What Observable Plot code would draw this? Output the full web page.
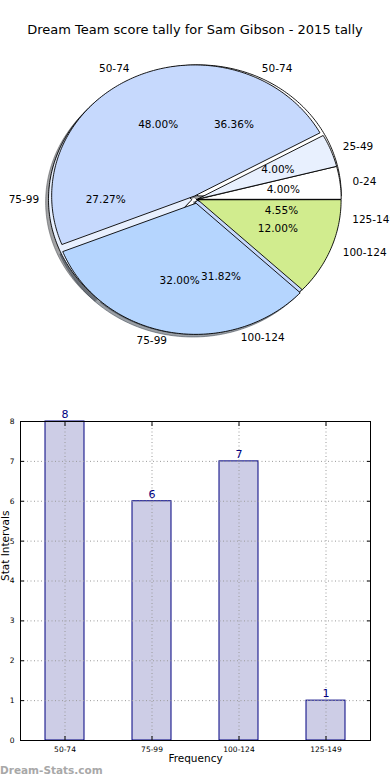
<!DOCTYPE html>
<html>
<head>
<meta charset="utf-8">
<script src="https://cdn.jsdelivr.net/npm/d3@7"></script>
<script src="https://cdn.jsdelivr.net/npm/@observablehq/plot@0.6"></script>
<style>
  html, body { margin: 0; padding: 0; background: #fff; }
  body { width: 390px; height: 780px; position: relative; overflow: hidden; font-family: "DejaVu Sans", sans-serif; }
  #title { height: 50px; box-sizing: border-box; padding-top: 20px; line-height: 20px; font-size: 13px; text-align: center; color: #000; }
  #watermark { position: absolute; left: 0; top: 763px; font-size: 10.5px; line-height: 14px; font-weight: bold; color: #a8a8a8; }
  svg { display: block; }
</style>
</head>
<body>
<div id="title">Dream Team score tally for Sam Gibson - 2015 tally</div>
<div id="pie"></div>
<div id="bar"></div>
<div id="watermark">Dream-Stats.com</div>
<script>
// ---- data ----
const pie1Labels = ["0-24", "25-49", "50-74", "75-99", "100-124"];
const pie1Pct = [4.00, 4.00, 48.00, 32.00, 12.00];
const pie2Labels = ["50-74", "75-99", "100-124", "125-149"];
const pie2Pct = [36.36, 27.27, 31.82, 4.55];
const barCategories = ["50-74", "75-99", "100-124", "125-149"];
const barValues = [8, 6, 7, 1];
const yTickValues = [0, 1, 2, 3, 4, 5, 6, 7, 8];

// ---- styles ----
const pie1Colors = ["#ffffff", "#e8f0fe", "#c6d9fd", "#b5d5fe", "#d1ec8e"];
const pie2Colors = ["#ffffff", "#e8f0fe", "#c6d9fd", "#b5d5fe"];
const pie1Explode = [0.012, 0.012, 0.03, 0.03, 0.012];
const pie2Explode = [0.03, 0.035, 0.01, 0.0];
const font = "DejaVu Sans";

function wedges(labels, pct, colors, explode, pie) {
  const total = d3.sum(pct);
  let acc = 0;
  return labels.map((label, i) => {
    const a0 = acc / total * 2 * Math.PI;
    acc += pct[i];
    const a1 = acc / total * 2 * Math.PI;
    const mid = (a0 + a1) / 2;
    const ex = explode[i] * Math.cos(mid), ey = explode[i] * Math.sin(mid);
    const pts = [{x: ex, y: ey}];
    const n = Math.max(2, Math.ceil((a1 - a0) / (Math.PI / 180)));
    for (let k = 0; k <= n; k++) {
      const a = a0 + (a1 - a0) * k / n;
      pts.push({x: ex + Math.cos(a), y: ey + Math.sin(a)});
    }
    return {
      pie, label, value: pct[i], color: colors[i], pts, mid,
      lx: 1.1 * Math.cos(mid), ly: 1.1 * Math.sin(mid),
      px: ex + 0.6 * Math.cos(mid), py: ey + 0.6 * Math.sin(mid),
      pctText: pct[i].toFixed(2) + "%"
    };
  });
}

const w1 = wedges(pie1Labels, pie1Pct, pie1Colors, pie1Explode, 1);
const w2 = wedges(pie2Labels, pie2Pct, pie2Colors, pie2Explode, 2);
const allW = [...w2, ...w1];

function shadowColor(c) {
  const r = d3.rgb(c);
  return d3.rgb(r.r * 0.3, r.g * 0.3, r.b * 0.3).formatHex();
}

const shadowMarks = allW.map(w => Plot.line(w.pts.map(p => ({x: p.x - 0.02, y: p.y - 0.02})), {
  x: "x", y: "y", curve: "linear-closed",
  fill: shadowColor(w.color), fillOpacity: 0.5,
  stroke: shadowColor(w.color), strokeOpacity: 0.5, strokeWidth: 1
}));
const wedgeMarks = allW.map(w => Plot.line(w.pts, {
  x: "x", y: "y", curve: "linear-closed",
  fill: w.color, stroke: "#000", strokeWidth: 0.9, strokeLinejoin: "round"
}));

const cxPix = 196, cyPix = 149, rx = 143, ry = 131;

const pieChart = Plot.plot({
  width: 390, height: 350,
  margin: 0,
  style: {fontFamily: font, background: "transparent", overflow: "visible"},
  x: {domain: [-1, 1], range: [cxPix - rx, cxPix + rx], axis: null},
  y: {domain: [-1, 1], range: [cyPix + ry, cyPix - ry], axis: null},
  marks: [
    ...shadowMarks,
    ...wedgeMarks,
    Plot.text(allW.filter(w => w.lx >= 0), {x: "lx", y: "ly", text: "label", textAnchor: "start", fontSize: 10.5, fill: "#000"}),
    Plot.text(allW.filter(w => w.lx < 0), {x: "lx", y: "ly", text: "label", textAnchor: "end", fontSize: 10.5, fill: "#000"}),
    Plot.text(allW, {x: "px", y: "py", text: "pctText", fontSize: 10.5, fill: "#000"})
  ]
});
document.getElementById("pie").appendChild(pieChart);

// ---- bar chart ----
const barData = barCategories.map((c, i) => ({category: c, value: barValues[i]}));

const barChart = Plot.plot({
  width: 390, height: 370,
  marginTop: 21, marginBottom: 30, marginLeft: 20, marginRight: 20,
  style: {fontFamily: font, background: "transparent", overflow: "visible"},
  x: {domain: barCategories, paddingInner: 0.55, paddingOuter: 0.275, align: 0.5, label: null},
  y: {domain: [0, 8], label: null},
  marks: [
    Plot.barY(barData, {x: "category", y: "value", fill: "#cdcde6", stroke: "#000080", strokeWidth: 1}),
    Plot.gridY(yTickValues, {stroke: "#9a9a9a", strokeOpacity: 1, strokeDasharray: "1,2.5", strokeWidth: 1}),
    Plot.gridX(barCategories, {stroke: "#9a9a9a", strokeOpacity: 1, strokeDasharray: "1,2.5", strokeWidth: 1}),
    Plot.axisY(yTickValues, {anchor: "left", tickSize: -4, tickPadding: 10, fontSize: 7.5, label: null, tickFormat: d => String(d)}),
    Plot.axisY(yTickValues, {anchor: "right", tickSize: -4, tickFormat: () => "", label: null}),
    Plot.axisX(barCategories, {anchor: "bottom", tickSize: -4, tickPadding: 10, fontSize: 7.5, label: null}),
    Plot.axisX(barCategories, {anchor: "top", tickSize: -4, tickFormat: () => "", label: null}),
    Plot.frame({stroke: "#000", strokeWidth: 1}),
    Plot.text(barData, {x: "category", y: "value", text: d => String(d.value), dy: -7, fill: "#000080", fontSize: 11}),
    Plot.text(["Frequency"], {frameAnchor: "bottom", dy: 21, fontSize: 10.5, fill: "#000"}),
    Plot.text(["Stat Intervals"], {frameAnchor: "left", dx: -15, rotate: -90, fontSize: 10.5, fill: "#000"})
  ]
});
document.getElementById("bar").appendChild(barChart);
</script>
</body>
</html>
